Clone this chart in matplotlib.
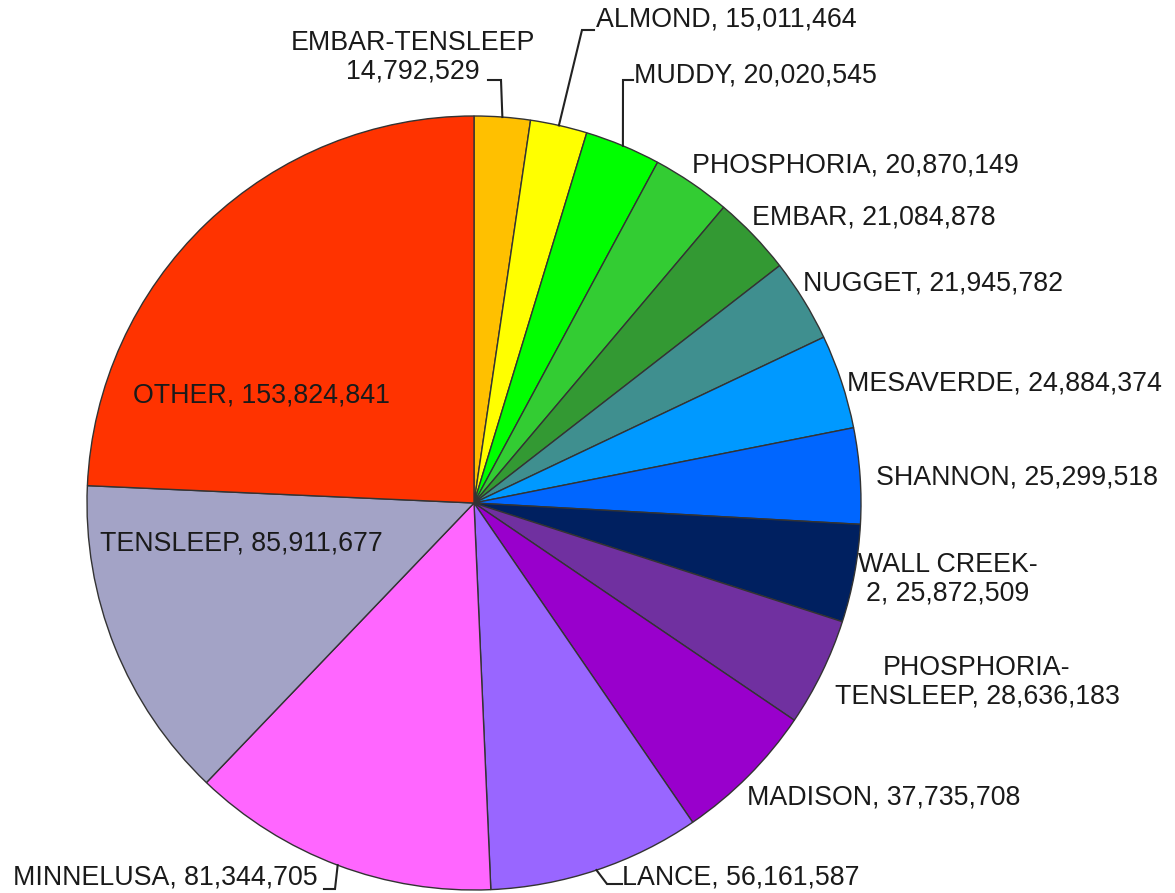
import matplotlib
matplotlib.use("Agg")
import matplotlib.pyplot as plt
import numpy as np

labels = ["EMBAR-TENSLEEP", "ALMOND", "MUDDY", "PHOSPHORIA", "EMBAR", "NUGGET",
          "MESAVERDE", "SHANNON", "WALL CREEK-2", "PHOSPHORIA-TENSLEEP", "MADISON",
          "LANCE", "MINNELUSA", "TENSLEEP", "OTHER"]
values = [14792529, 15011464, 20020545, 20870149, 21084878, 21945782,
          24884374, 25299518, 25872509, 28636183, 37735708,
          56161587, 81344705, 85911677, 153824841]
colors = ["#FFC000", "#FFFF00", "#00FF00", "#33CC33", "#339933", "#3F8F8F",
          "#0099FF", "#0066FF", "#002060", "#7030A0", "#9900CC",
          "#9966FF", "#FF66FF", "#A3A3C6", "#FF3300"]

plt.rcParams['font.family'] = ['Liberation Sans', 'DejaVu Sans']

W, H = 1175, 893
fig = plt.figure(figsize=(W / 100, H / 100), dpi=100)
ax = fig.add_axes([0, 0, 1, 1])

cx, cy, R = 474, 503, 387
wedges, _ = ax.pie(values, colors=colors, startangle=-90, counterclock=True,
                   center=(cx, cy), radius=R,
                   wedgeprops=dict(edgecolor="#333333", linewidth=1.0))
ax.set_xlim(0, W)
ax.set_ylim(H, 0)
ax.set_aspect('equal')
ax.axis('off')

def fmt(v):
    return f"{v:,}"

def edge(i):
    w = wedges[i]
    t = np.deg2rad((w.theta1 + w.theta2) / 2)
    return cx + R * np.cos(t), cy + R * np.sin(t)

fs = 19.3
tc = "#1a1a1a"
# (index, x, y, ha, text, leader elbow points)
specs = [
    (0, 413, 57, "center", "EMBAR-TENSLEEP\n" + fmt(values[0]), [(488, 80), (501, 80)]),
    (1, 596, 20, "left", f"{labels[1]}, {fmt(values[1])}", [(594, 30), (582, 30)]),
    (2, 634, 75, "left", f"{labels[2]}, {fmt(values[2])}", [(633, 80), (623, 80)]),
    (3, 692, 165, "left", f"{labels[3]}, {fmt(values[3])}", None),
    (4, 752, 218, "left", f"{labels[4]}, {fmt(values[4])}", None),
    (5, 803, 284, "left", f"{labels[5]}, {fmt(values[5])}", None),
    (6, 847, 383, "left", f"{labels[6]}, {fmt(values[6])}", None),
    (7, 876, 477, "left", f"{labels[7]}, {fmt(values[7])}", None),
    (8, 948, 579, "center", "WALL CREEK-\n2, " + fmt(values[8]), None),
    (9, 977, 682, "center", "PHOSPHORIA-\nTENSLEEP, " + fmt(values[9]), None),
    (10, 747, 798, "left", f"{labels[10]}, {fmt(values[10])}", None),
    (11, 622, 877, "left", f"{labels[11]}, {fmt(values[11])}", [(622, 884), (607, 884)]),
    (12, 13, 878, "left", f"{labels[12]}, {fmt(values[12])}", [(324, 889), (335, 889)]),
    (13, 100, 543, "left", f"{labels[13]}, {fmt(values[13])}", None),
    (14, 133, 395, "left", f"{labels[14]}, {fmt(values[14])}", None),
]

for i, x, y, ha, txt, elbow in specs:
    ax.text(x, y, txt, ha=ha, va="center", fontsize=fs, color=tc,
            linespacing=1.12, multialignment="center")
    if elbow:
        ex, ey = edge(i)
        xs = [p[0] for p in elbow] + [ex]
        ys = [p[1] for p in elbow] + [ey]
        ax.plot(xs, ys, color="#222222", lw=1.5, solid_joinstyle="miter")

fig.savefig("out.png", dpi=100, facecolor="white")
